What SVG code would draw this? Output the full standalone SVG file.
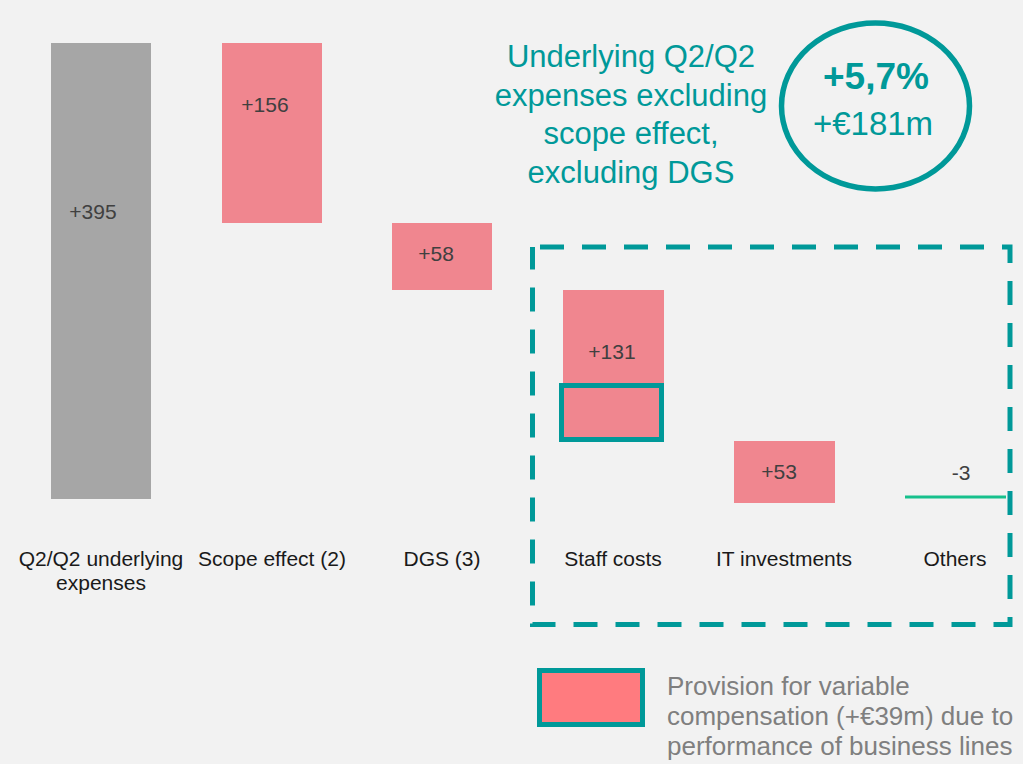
<svg xmlns="http://www.w3.org/2000/svg" width="1023" height="764" viewBox="0 0 1023 764">
  <style>
    .lbl { font-family: "Liberation Sans", Arial, sans-serif; font-size: 21px; fill: #1a1a1a; text-anchor: middle; }
    .val { font-family: "Liberation Sans", Arial, sans-serif; font-size: 21px; fill: #404040; text-anchor: middle; }
    .bar { fill: #f0868f; }
    .teal { fill: none; stroke: #009999; }
    .head { font-family: "Liberation Sans", Arial, sans-serif; fill: #009999; text-anchor: middle; }
    .legend { font-family: "Liberation Sans", Arial, sans-serif; font-size: 26px; fill: #7f7f7f; }
  </style>
  <rect width="1023" height="764" fill="#f2f2f2"/>

  <!-- waterfall bars -->
  <g id="bar-underlying">
    <rect x="51" y="43" width="100" height="456" fill="#a6a6a6"/>
    <text class="val" x="93" y="219">+395</text>
    <text class="lbl" x="101" y="566">Q2/Q2 underlying</text>
    <text class="lbl" x="101" y="590">expenses</text>
  </g>
  <g id="bar-scope">
    <rect class="bar" x="222" y="43" width="100" height="180"/>
    <text class="val" x="265" y="112">+156</text>
    <text class="lbl" x="272" y="566">Scope effect (2)</text>
  </g>
  <g id="bar-dgs">
    <rect class="bar" x="392" y="223" width="100" height="67"/>
    <text class="val" x="436" y="261">+58</text>
    <text class="lbl" x="442" y="566">DGS (3)</text>
  </g>
  <g id="bar-staff">
    <rect class="bar" x="563" y="290" width="101" height="152"/>
    <rect class="teal" x="561.5" y="385.5" width="100" height="54" stroke-width="5"/>
    <text class="val" x="612" y="359">+131</text>
    <text class="lbl" x="613" y="566">Staff costs</text>
  </g>
  <g id="bar-it">
    <rect class="bar" x="734" y="441" width="101" height="62"/>
    <text class="val" x="779" y="479">+53</text>
    <text class="lbl" x="784" y="566">IT investments</text>
  </g>
  <g id="bar-others">
    <line x1="905" y1="497" x2="1006" y2="497" stroke="#16c08c" stroke-width="3"/>
    <text class="val" x="961" y="480">-3</text>
    <text class="lbl" x="955" y="566">Others</text>
  </g>

  <!-- dashed frame around the underlying cost drivers -->
  <g id="frame">
    <rect class="teal" x="532.5" y="247" width="477.5" height="377.5" stroke-width="5" stroke-dasharray="24 18" stroke-dashoffset="34.5"/>
  </g>

  <!-- headline -->
  <g id="headline">
    <text class="head" font-size="31" x="631" y="67">Underlying Q2/Q2</text>
    <text class="head" font-size="31" x="631" y="105.5">expenses excluding</text>
    <text class="head" font-size="31" x="631" y="144">scope effect,</text>
    <text class="head" font-size="31" x="631" y="182.5">excluding DGS</text>
  </g>
  <g id="growth-badge">
    <ellipse class="teal" cx="875.5" cy="106" rx="94" ry="83" stroke-width="5.5"/>
    <text class="head" font-size="37" font-weight="bold" x="876" y="89">+5,7%</text>
    <text class="head" font-size="33" x="873" y="135">+€181m</text>
  </g>

  <!-- legend -->
  <g id="legend">
    <rect x="539.5" y="670.5" width="103" height="54" fill="#ff7b7f" stroke="#009999" stroke-width="5"/>
    <text class="legend" x="667" y="695">Provision for variable</text>
    <text class="legend" x="667" y="725">compensation (+€39m) due to</text>
    <text class="legend" x="667" y="755">performance of business lines</text>
  </g>
</svg>
